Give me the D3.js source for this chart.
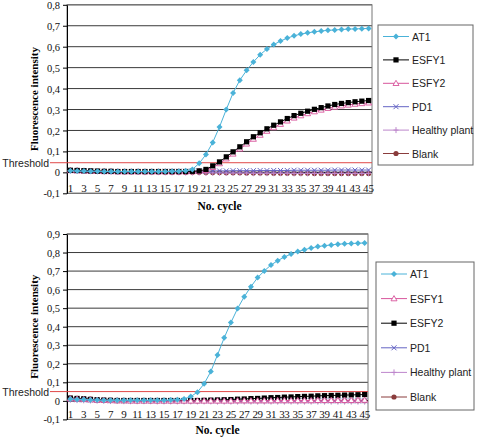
<!DOCTYPE html>
<html>
<head>
<meta charset="utf-8">
<script src="https://cdn.jsdelivr.net/npm/d3@7"></script>
<style>
  body { margin: 0; background: #fff; }
  svg { display: block; }
</style>
</head>
<body>
<svg id="chart" width="480" height="440"></svg>
<script>
const cycles = d3.range(1, 46);
const xTickLabels = cycles.filter(c => c % 2 === 1);

// top panel
const topTicks = [-0.1, 0, 0.1, 0.2, 0.3, 0.4, 0.5, 0.6, 0.7, 0.8];
const topThreshold = 0.046;
const topAT1 = [0.008, 0.007, 0.006, 0.005, 0.005, 0.004, 0.004, 0.004, 0.004, 0.004,
  0.004, 0.004, 0.004, 0.004, 0.004, 0.005, 0.005, 0.008, 0.014, 0.043,
  0.085, 0.143, 0.217, 0.300, 0.379, 0.440, 0.487, 0.527, 0.562, 0.589,
  0.610, 0.627, 0.641, 0.652, 0.660, 0.666, 0.671, 0.675, 0.678, 0.680,
  0.682, 0.684, 0.685, 0.686, 0.687];
const topESFY1 = [0.010, 0.009, 0.008, 0.007, 0.006, 0.005, 0.005, 0.004, 0.004, 0.004,
  0.004, 0.004, 0.004, 0.004, 0.004, 0.004, 0.004, 0.004, 0.005, 0.007,
  0.014, 0.031, 0.050, 0.074, 0.098, 0.122, 0.146, 0.170, 0.189, 0.208,
  0.225, 0.241, 0.257, 0.271, 0.282, 0.292, 0.301, 0.309, 0.317, 0.324,
  0.329, 0.333, 0.337, 0.340, 0.343];
const topESFY2 = [0.009, 0.008, 0.007, 0.006, 0.005, 0.004, 0.004, 0.003, 0.003, 0.003,
  0.003, 0.003, 0.003, 0.003, 0.003, 0.003, 0.003, 0.003, 0.004, 0.005,
  0.010, 0.024, 0.042, 0.065, 0.088, 0.112, 0.136, 0.159, 0.178, 0.197,
  0.214, 0.230, 0.246, 0.260, 0.271, 0.281, 0.290, 0.298, 0.306, 0.312,
  0.318, 0.322, 0.326, 0.329, 0.332];
const topPD1 = [0.008, 0.007, 0.006, 0.005, 0.005, 0.004, 0.004, 0.004, 0.004, 0.004,
  0.004, 0.004, 0.004, 0.004, 0.005, 0.005, 0.005, 0.005, 0.006, 0.006,
  0.006, 0.007, 0.007, 0.007, 0.008, 0.008, 0.008, 0.008, 0.009, 0.009,
  0.009, 0.009, 0.009, 0.010, 0.010, 0.010, 0.010, 0.010, 0.010, 0.011,
  0.011, 0.011, 0.011, 0.011, 0.011];
const topHealthy = [0.009, 0.008, 0.007, 0.006, 0.005, 0.004, 0.003, 0.003, 0.002, 0.002,
  0.002, 0.001, 0.001, 0.001, 0.000, 0.000, 0.000, -0.001, -0.001, -0.001,
  -0.002, -0.002, -0.002, -0.003, -0.003, -0.003, -0.003, -0.004, -0.004, -0.004,
  -0.004, -0.004, -0.004, -0.005, -0.005, -0.005, -0.005, -0.005, -0.005, -0.005,
  -0.005, -0.005, -0.005, -0.005, -0.005];
const topBlank = [0.010, 0.009, 0.008, 0.007, 0.006, 0.005, 0.004, 0.004, 0.003, 0.003,
  0.003, 0.002, 0.002, 0.002, 0.001, 0.001, 0.001, 0.000, 0.000, 0.000,
  -0.001, -0.001, -0.001, -0.002, -0.002, -0.002, -0.003, -0.003, -0.003, -0.003,
  -0.004, -0.004, -0.004, -0.004, -0.004, -0.004, -0.005, -0.005, -0.005, -0.005,
  -0.005, -0.005, -0.005, -0.005, -0.005];

// bottom panel
const bottomTicks = [-0.1, 0, 0.1, 0.2, 0.3, 0.4, 0.5, 0.6, 0.7, 0.8, 0.9];
const bottomThreshold = 0.05;
const bottomAT1 = [0.010, 0.008, 0.007, 0.005, 0.004, 0.003, 0.003, 0.003, 0.003, 0.003,
  0.003, 0.003, 0.003, 0.003, 0.003, 0.004, 0.006, 0.010, 0.023, 0.047,
  0.092, 0.158, 0.248, 0.340, 0.422, 0.498, 0.562, 0.616, 0.665, 0.701,
  0.733, 0.756, 0.776, 0.792, 0.805, 0.815, 0.825, 0.832, 0.837, 0.841,
  0.845, 0.847, 0.849, 0.850, 0.852];
const bottomESFY1 = [0.012, 0.010, 0.008, 0.006, 0.004, 0.003, 0.002, 0.001, 0.001, 0.000,
  0.000, 0.000, 0.000, 0.000, 0.000, 0.000, 0.000, 0.000, 0.000, 0.000,
  0.000, 0.000, 0.000, 0.000, 0.000, 0.001, 0.001, 0.001, 0.001, 0.001,
  0.001, 0.002, 0.002, 0.002, 0.002, 0.002, 0.002, 0.003, 0.003, 0.003,
  0.003, 0.003, 0.003, 0.004, 0.004];
const bottomESFY2 = [0.015, 0.013, 0.011, 0.008, 0.006, 0.004, 0.003, 0.002, 0.002, 0.002,
  0.002, 0.002, 0.002, 0.002, 0.002, 0.002, 0.002, 0.002, 0.002, 0.002,
  0.003, 0.004, 0.005, 0.006, 0.007, 0.009, 0.010, 0.012, 0.013, 0.015,
  0.017, 0.018, 0.020, 0.021, 0.023, 0.024, 0.025, 0.027, 0.028, 0.029,
  0.030, 0.031, 0.032, 0.033, 0.034];
const bottomPD1 = [0.008, 0.006, 0.005, 0.004, 0.003, 0.002, 0.001, 0.001, 0.000, 0.000,
  0.000, 0.000, 0.000, 0.000, 0.000, 0.000, 0.000, 0.000, 0.000, 0.000,
  0.000, 0.000, 0.000, 0.000, 0.000, 0.000, 0.000, 0.000, 0.000, 0.000,
  0.000, 0.000, 0.000, 0.000, 0.000, 0.000, 0.000, 0.000, 0.000, 0.000,
  0.000, 0.000, 0.000, 0.000, 0.000];
const bottomHealthy = [0.006, 0.004, 0.003, 0.002, 0.001, 0.000, -0.001, -0.001, -0.002, -0.002,
  -0.002, -0.002, -0.002, -0.003, -0.003, -0.003, -0.003, -0.003, -0.003, -0.003,
  -0.003, -0.003, -0.004, -0.004, -0.004, -0.004, -0.004, -0.004, -0.004, -0.004,
  -0.004, -0.004, -0.004, -0.004, -0.004, -0.004, -0.004, -0.004, -0.004, -0.004,
  -0.004, -0.004, -0.004, -0.004, -0.004];
const bottomBlank = [0.015, 0.013, 0.011, 0.009, 0.007, 0.005, 0.004, 0.003, 0.002, 0.002,
  0.001, 0.001, 0.001, 0.001, 0.001, 0.001, 0.001, 0.001, 0.001, 0.001,
  0.001, 0.001, 0.001, 0.001, 0.001, 0.001, 0.001, 0.001, 0.001, 0.001,
  0.001, 0.001, 0.001, 0.001, 0.001, 0.001, 0.001, 0.001, 0.001, 0.001,
  0.001, 0.001, 0.001, 0.001, 0.001];

const colors = {
  at1: '#4ab2d8',
  black: '#000000',
  pink: '#d8559c',
  pd1: '#6464c4',
  healthy: '#bd86cc',
  blank: '#8a3c3c',
  threshold: '#e04848'
};

const locale = d3.formatLocale({ decimal: ',', thousands: '.', grouping: [3], currency: ['', ''], minus: '-' });
const fmt = locale.format('.1~f');

const svg = d3.select('#chart');

function marker(g, type, color, x, y) {
  if (type === 'diamond') {
    g.append('path').attr('d', `M${x},${y - 3}L${x + 3},${y}L${x},${y + 3}L${x - 3},${y}Z`)
      .attr('fill', color);
  } else if (type === 'square') {
    g.append('rect').attr('x', x - 2.6).attr('y', y - 2.6).attr('width', 5.2).attr('height', 5.2)
      .attr('fill', color);
  } else if (type === 'triangle') {
    g.append('path').attr('d', `M${x},${y - 3}L${x + 3},${y + 2.2}L${x - 3},${y + 2.2}Z`)
      .attr('fill', '#fff').attr('stroke', color).attr('stroke-width', 0.9);
  } else if (type === 'cross') {
    g.append('path').attr('d', `M${x - 2.5},${y - 2.5}L${x + 2.5},${y + 2.5}M${x + 2.5},${y - 2.5}L${x - 2.5},${y + 2.5}`)
      .attr('stroke', color).attr('stroke-width', 1).attr('fill', 'none');
  } else if (type === 'plus') {
    g.append('path').attr('d', `M${x},${y - 3}L${x},${y + 3}M${x - 2.5},${y}L${x + 2.5},${y}`)
      .attr('stroke', color).attr('stroke-width', 1).attr('fill', 'none');
  } else if (type === 'circle') {
    g.append('circle').attr('cx', x).attr('cy', y).attr('r', 2.6).attr('fill', color);
  }
}

function drawPanel(p) {
  const g = svg.append('g');
  const x = d3.scaleBand().domain(cycles).range([p.left, p.right]);
  const y = d3.scaleLinear().domain([p.ticks[0], p.ticks[p.ticks.length - 1]]).range([p.bottom, p.top]);
  const cx = c => x(c) + x.bandwidth() / 2;

  // gridlines
  g.append('g').selectAll('line').data(p.ticks).join('line')
    .attr('x1', p.left).attr('x2', p.right)
    .attr('y1', d => y(d)).attr('y2', d => y(d))
    .attr('stroke', '#3a3a3a').attr('stroke-width', 1);

  // plot border
  g.append('rect').attr('x', p.left).attr('y', p.top)
    .attr('width', p.right - p.left).attr('height', p.bottom - p.top)
    .attr('fill', 'none').attr('stroke', '#777').attr('stroke-width', 1);

  // y axis
  const yAxis = g.append('g').attr('transform', `translate(${p.left},0)`)
    .call(d3.axisLeft(y).tickValues(p.ticks).tickFormat(fmt).tickSizeInner(4).tickSizeOuter(0).tickPadding(3));
  yAxis.select('.domain').attr('stroke', '#000');
  yAxis.selectAll('.tick line').attr('stroke', '#000');
  yAxis.selectAll('text').attr('font-family', '"Liberation Serif", serif').attr('font-size', 10.5)
    .attr('dy', '0.34em').attr('fill', '#111');

  // x axis at 0
  g.append('line').attr('x1', p.left).attr('x2', p.right).attr('y1', y(0)).attr('y2', y(0))
    .attr('stroke', '#000');
  g.append('g').selectAll('text').data(xTickLabels).join('text')
    .attr('x', d => cx(d)).attr('y', y(p.ticks[0]) - 1.5)
    .attr('text-anchor', 'middle')
    .attr('font-family', '"Liberation Serif", serif').attr('font-size', 11).attr('fill', '#111')
    .attr('letter-spacing', p.xLetter)
    .text(d => d);

  // threshold
  g.append('line').attr('x1', 50).attr('x2', p.right)
    .attr('y1', y(p.threshold)).attr('y2', y(p.threshold))
    .attr('stroke', colors.threshold).attr('stroke-width', 1);
  g.append('text').attr('x', 49).attr('y', y(p.threshold) + 4)
    .attr('text-anchor', 'end')
    .attr('font-family', '"Liberation Sans", Arial, sans-serif').attr('font-size', 10.5).attr('fill', '#222')
    .text('Threshold');

  // series, drawn from the last legend entry to the first
  const line = d3.line().x((d, i) => cx(cycles[i])).y(d => y(d));
  p.series.slice().reverse().forEach(s => {
    g.append('path').datum(s.values).attr('d', line)
      .attr('fill', 'none').attr('stroke', s.color).attr('stroke-width', 1);
    const mg = g.append('g');
    s.values.forEach((v, i) => marker(mg, s.marker, s.color, cx(cycles[i]), y(v)));
  });

  // axis titles
  g.append('text')
    .attr('transform', `translate(${p.yTitleX},${(p.top + p.bottom) / 2}) rotate(-90)`)
    .attr('text-anchor', 'middle')
    .attr('font-family', '"Liberation Serif", serif').attr('font-weight', 'bold').attr('font-size', 11)
    .text('Fluorescence intensity');
  g.append('text').attr('x', (p.left + p.right) / 2).attr('y', p.xTitleY)
    .attr('text-anchor', 'middle')
    .attr('font-family', '"Liberation Serif", serif').attr('font-weight', 'bold').attr('font-size', 11.5)
    .text('No. cycle');

  // legend
  const lg = g.append('g');
  lg.append('rect').attr('x', p.legend.x).attr('y', p.legend.y)
    .attr('width', p.legend.w).attr('height', p.legend.h)
    .attr('fill', '#fff').attr('stroke', '#666').attr('stroke-width', 1);
  p.series.forEach((s, i) => {
    const ly = p.legend.y + p.legend.first + i * p.legend.step;
    const lx = p.legend.x + 5;
    lg.append('line').attr('x1', lx).attr('x2', lx + 26).attr('y1', ly).attr('y2', ly)
      .attr('stroke', s.color).attr('stroke-width', 1);
    marker(lg, s.marker, s.color, lx + 13, ly);
    lg.append('text').attr('x', lx + 29).attr('y', ly + 4)
      .attr('font-family', '"Liberation Sans", Arial, sans-serif').attr('font-size', 10.5).attr('fill', '#222')
      .text(s.name);
  });
}

drawPanel({
  left: 67, right: 372, top: 4.8, bottom: 193.3,
  ticks: topTicks, threshold: topThreshold,
  yTitleX: 38, xTitleY: 210, xLetter: 0,
  legend: { x: 378, y: 25, w: 95, h: 140, first: 11.5, step: 23.4 },
  series: [
    { name: 'AT1', values: topAT1, color: colors.at1, marker: 'diamond' },
    { name: 'ESFY1', values: topESFY1, color: colors.black, marker: 'square' },
    { name: 'ESFY2', values: topESFY2, color: colors.pink, marker: 'triangle' },
    { name: 'PD1', values: topPD1, color: colors.pd1, marker: 'cross' },
    { name: 'Healthy plant', values: topHealthy, color: colors.healthy, marker: 'plus' },
    { name: 'Blank', values: topBlank, color: colors.blank, marker: 'circle' }
  ]
});

drawPanel({
  left: 67, right: 368, top: 234, bottom: 419.4,
  ticks: bottomTicks, threshold: bottomThreshold,
  yTitleX: 38, xTitleY: 434, xLetter: -0.3,
  legend: { x: 376, y: 262, w: 98, h: 148, first: 12, step: 24.6 },
  series: [
    { name: 'AT1', values: bottomAT1, color: colors.at1, marker: 'diamond' },
    { name: 'ESFY1', values: bottomESFY1, color: colors.pink, marker: 'triangle' },
    { name: 'ESFY2', values: bottomESFY2, color: colors.black, marker: 'square' },
    { name: 'PD1', values: bottomPD1, color: colors.pd1, marker: 'cross' },
    { name: 'Healthy plant', values: bottomHealthy, color: colors.healthy, marker: 'plus' },
    { name: 'Blank', values: bottomBlank, color: colors.blank, marker: 'circle' }
  ]
});
</script>
</body>
</html>
